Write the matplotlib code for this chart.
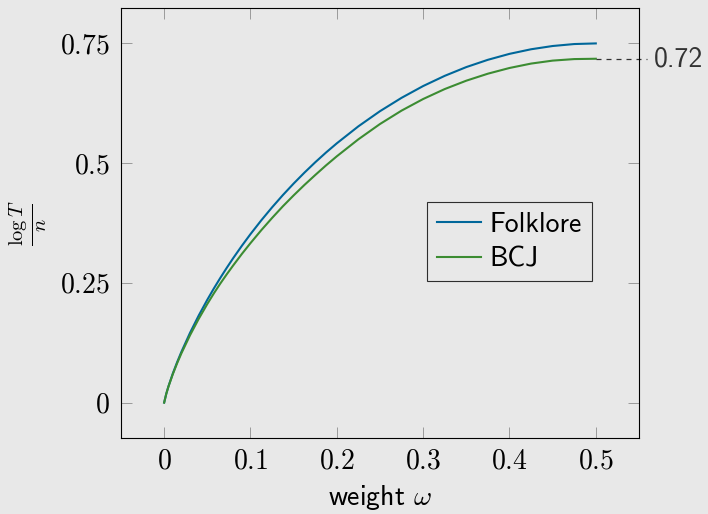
#!/usr/bin/env python
'''
Time exponent against weight for the Folklore and BCJ algorithms.
'''
import matplotlib
matplotlib.use('Agg')
import matplotlib.pyplot as plt

# values
weight = [0, 0.0025, 0.005, 0.01, 0.015, 0.02, 0.03, 0.04, 0.05, 0.0575,
          0.065, 0.0725, 0.08, 0.09, 0.1, 0.1125, 0.125, 0.1375, 0.15,
          0.1625, 0.175, 0.1875, 0.2, 0.225, 0.25, 0.275, 0.3, 0.325,
          0.35, 0.375, 0.4, 0.425, 0.45, 0.475, 0.5]
folklore = [0, 0.0189, 0.0341, 0.0606, 0.0843, 0.1061, 0.1458, 0.1817,
            0.2148, 0.2381, 0.2602, 0.2814, 0.3017, 0.3274, 0.3518,
            0.3806, 0.4077, 0.4333, 0.4574, 0.4802, 0.5018, 0.5222,
            0.5414, 0.5769, 0.6085, 0.6364, 0.6610, 0.6823, 0.7006,
            0.7158, 0.7282, 0.7378, 0.7446, 0.7487, 0.75]
bcj = [0, 0.0186, 0.0335, 0.0592, 0.0821, 0.1030, 0.1408, 0.1748, 0.2060,
       0.2279, 0.2485, 0.2679, 0.2865, 0.3104, 0.3330, 0.3600, 0.3855,
       0.4099, 0.4327, 0.4545, 0.4752, 0.4953, 0.5143, 0.5498, 0.5817,
       0.6097, 0.6339, 0.6547, 0.6722, 0.6868, 0.6987, 0.7079, 0.7141,
       0.7173, 0.7180]
bcj_end_label = '0.72'

xticks = [0, 0.1, 0.2, 0.3, 0.4, 0.5]
xtick_labels = ['$0$', '$0.1$', '$0.2$', '$0.3$', '$0.4$', '$0.5$']
yticks = [0, 0.25, 0.5, 0.75]
ytick_labels = ['$0$', '$0.25$', '$0.5$', '$0.75$']

BG = '#e8e8e8'
BLUE = '#00679a'
GREEN = '#3c8c32'

plt.rcParams['mathtext.fontset'] = 'cm'
plt.rcParams['font.family'] = ['cmss10', 'DejaVu Sans']
plt.rcParams['axes.unicode_minus'] = False

fig = plt.figure(figsize=(7.08, 5.14), dpi=100, facecolor=BG)
ax = fig.add_axes([0.1709, 0.1469, 0.7316, 0.8385], facecolor=BG)

ax.plot(weight, folklore, color=BLUE, lw=1.5, label='Folklore')
ax.plot(weight, bcj, color=GREEN, lw=1.5, label='BCJ')

# dashed marker of the BCJ end value, running out past the right axis
ax.plot([weight[-1], 0.559], [bcj[-1], bcj[-1]], color='#333333', lw=0.9,
        linestyle=(0, (4, 4)), clip_on=False)
ax.text(0.567, bcj[-1], bcj_end_label, fontsize=20, color='#333333',
        ha='left', va='center')

ax.set_xlim(-0.05, 0.55)
ax.set_ylim(-0.075, 0.825)
ax.set_xticks(xticks)
ax.set_xticklabels(xtick_labels)
ax.set_yticks(yticks)
ax.set_yticklabels(ytick_labels)
ax.tick_params(direction='in', length=8, width=0.7, color='#9a9a9a',
               labelsize=20, labelcolor='black', top=True, right=True)
ax.tick_params(axis='x', pad=7)
ax.tick_params(axis='y', pad=8)
for spine in ax.spines.values():
    spine.set_color('black')
    spine.set_linewidth(0.8)

ax.set_xlabel(r'weight $\omega$', fontsize=20, labelpad=7)
ax.set_ylabel(r'$\frac{\log T}{n}$', fontsize=21, labelpad=8)

leg = ax.legend(loc='upper left', bbox_to_anchor=(0.591, 0.549),
                fontsize=20, frameon=True, fancybox=False, handlelength=1.6,
                handletextpad=0.3, borderpad=0.35, labelspacing=0.35,
                borderaxespad=0)
leg.get_frame().set_edgecolor('black')
leg.get_frame().set_facecolor(BG)
leg.get_frame().set_linewidth(0.8)

fig.savefig('out.png', dpi=100, facecolor=BG)
